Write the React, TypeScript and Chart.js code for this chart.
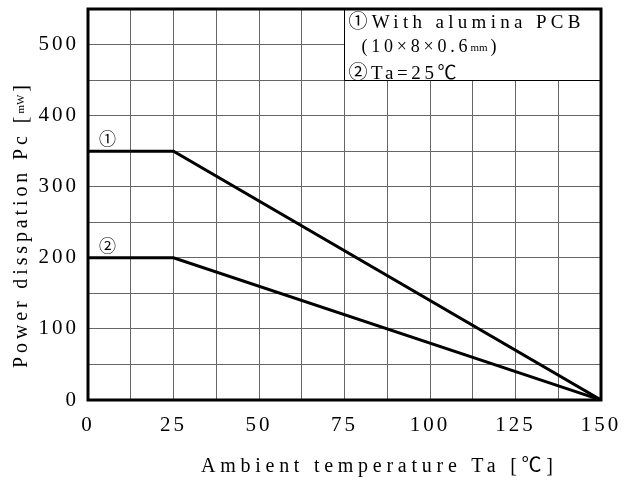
import React, { useEffect, useRef } from 'react';
import { Chart, registerables } from 'chart.js';
Chart.register(...registerables);

const temps = [0, 25, 150];
const withPcb = [350, 350, 0];
const ta25 = [200, 200, 0];
const xLabeled = [0, 25, 50, 75, 100, 125, 150];
const yLabeled = [0, 100, 200, 300, 400, 500];
const xTitle = 'Ambient temperature Ta [℃]';
const yTitleMain = 'Power disspation Pc [';
const yTitleUnit = 'mW';
const yTitleEnd = ']';
const legendLine1 = '①With alumina PCB';
const legendLine2Main = '(10×8×0.6';
const legendLine2Unit = 'mm';
const legendLine2End = ')';
const legendLine3 = '②Ta=25℃';
const markerLabels = ['①', '②'];

const FONT = "'Liberation Serif', 'Noto Sans CJK JP', serif";

function setLS(ctx: CanvasRenderingContext2D, s: number) {
  (ctx as any).letterSpacing = s + 'px';
}

function fitSpacing(ctx: CanvasRenderingContext2D, text: string, size: number, target: number) {
  ctx.font = `${size}px ${FONT}`;
  setLS(ctx, 0);
  const nat = ctx.measureText(text).width;
  const n = Array.from(text).length;
  return n > 1 ? (target - nat) / (n - 1) : 0;
}

function drawFit(ctx: CanvasRenderingContext2D, text: string, x: number, y: number, size: number, target: number) {
  const s = fitSpacing(ctx, text, size, target);
  ctx.font = `${size}px ${FONT}`;
  setLS(ctx, s);
  ctx.fillText(text, x, y);
  setLS(ctx, 0);
  return s;
}

function drawPart(ctx: CanvasRenderingContext2D, text: string, x: number, y: number, size: number, s: number) {
  ctx.font = `${size}px ${FONT}`;
  setLS(ctx, s);
  ctx.fillText(text, x, y);
  const w = ctx.measureText(text).width - s;
  setLS(ctx, 0);
  return w;
}

const overlayPlugin = {
  id: 'overlay',
  beforeDraw(chart: any) {
    setLS(chart.ctx, 3);
  },
  afterDraw(chart: any) {
    const ctx: CanvasRenderingContext2D = chart.ctx;
    setLS(ctx, 0);
    const xs = chart.scales.x;
    const ys = chart.scales.y;
    const ca = chart.chartArea;
    ctx.save();
    // legend box
    const bx1 = xs.getPixelForValue(75);
    const bx2 = xs.getPixelForValue(150);
    const by1 = ys.getPixelForValue(550);
    const by2 = ys.getPixelForValue(450);
    ctx.fillStyle = '#fff';
    ctx.fillRect(bx1, by1, bx2 - bx1, by2 - by1);
    ctx.strokeStyle = '#000';
    ctx.lineWidth = 1;
    ctx.beginPath();
    ctx.moveTo(Math.round(bx1) - 0.5, by1);
    ctx.lineTo(Math.round(bx1) - 0.5, Math.round(by2) + 0.5);
    ctx.lineTo(bx2, Math.round(by2) + 0.5);
    ctx.stroke();
    ctx.fillStyle = '#000';
    ctx.textBaseline = 'alphabetic';
    ctx.textAlign = 'left';
    drawFit(ctx, legendLine1, bx1 + 4, 28, 19, 232);
    let lx = bx1 + 17;
    const s2 = fitSpacing(ctx, legendLine2Main, 18, 106);
    lx += drawPart(ctx, legendLine2Main, lx, 52, 18, s2);
    lx += 3;
    lx += drawPart(ctx, legendLine2Unit, lx, 51, 11, 0);
    lx += 3;
    drawPart(ctx, legendLine2End, lx, 52, 18, 0);
    drawFit(ctx, legendLine3, bx1 + 4, 79, 19, 108);
    // frame
    ctx.lineWidth = 3;
    ctx.strokeRect(ca.left, ca.top, ca.right - ca.left, ca.bottom - ca.top);
    // marker labels
    ctx.font = `17px ${FONT}`;
    ctx.textAlign = 'center';
    ctx.textBaseline = 'middle';
    ctx.fillText(markerLabels[0], xs.getPixelForValue(5.7), ys.getPixelForValue(365));
    ctx.fillText(markerLabels[1], xs.getPixelForValue(5.7), ys.getPixelForValue(215));
    // x title
    ctx.textAlign = 'left';
    ctx.textBaseline = 'alphabetic';
    drawFit(ctx, xTitle, 201, 472, 20, 352);
    // y title (rotated), ink from y=368 up to y=85
    ctx.translate(27, 368);
    ctx.rotate(-Math.PI / 2);
    ctx.font = `20px ${FONT}`;
    const natMain = ctx.measureText(yTitleMain).width;
    ctx.font = `11px ${FONT}`;
    const natUnit = ctx.measureText(yTitleUnit).width;
    ctx.font = `20px ${FONT}`;
    const natEnd = ctx.measureText(yTitleEnd).width;
    const gaps = 6;
    const n = Array.from(yTitleMain).length;
    const s = (283 - natMain - natUnit - natEnd - gaps) / (n - 1);
    let yx = 0;
    yx += drawPart(ctx, yTitleMain, yx, 0, 20, s);
    yx += 3;
    yx += drawPart(ctx, yTitleUnit, yx, -3, 11, 0);
    yx += 3;
    drawPart(ctx, yTitleEnd, yx, 0, 20, 0);
    ctx.restore();
    setLS(ctx, 0);
  },
};

export default function App() {
  const ref = useRef<HTMLCanvasElement>(null);
  useEffect(() => {
    if (!ref.current) return;
    const mk = (ys: number[]) => temps.map((t, i) => ({ x: t, y: ys[i] }));
    const chart = new Chart(ref.current, {
      type: 'line',
      data: {
        datasets: [
          { label: 'With alumina PCB', data: mk(withPcb), borderColor: '#000', borderWidth: 3, pointRadius: 0, fill: false, tension: 0 },
          { label: 'Ta=25℃', data: mk(ta25), borderColor: '#000', borderWidth: 3, pointRadius: 0, fill: false, tension: 0 },
        ],
      },
      options: {
        animation: false,
        responsive: false,
        events: [],
        layout: { padding: { top: 9, right: 26, left: 0, bottom: 0 } },
        plugins: { legend: { display: false }, tooltip: { enabled: false }, title: { display: false } },
        scales: {
          x: {
            type: 'linear',
            min: 0,
            max: 150,
            border: { display: false },
            grid: { color: '#666', lineWidth: 1, drawTicks: false },
            ticks: {
              stepSize: 12.5,
              autoSkip: false,
              maxRotation: 0,
              padding: 13,
              color: '#000',
              font: { family: FONT, size: 21 },
              callback: (v: any) => (xLabeled.includes(Number(v)) ? String(v) : ''),
            },
            afterFit: (s: any) => { s.height = 82; s.paddingLeft = 0; s.paddingRight = 0; },
          },
          y: {
            type: 'linear',
            min: 0,
            max: 550,
            border: { display: false },
            grid: { color: '#666', lineWidth: 1, drawTicks: false },
            ticks: {
              stepSize: 50,
              autoSkip: false,
              padding: 9,
              color: '#000',
              font: { family: FONT, size: 21 },
              callback: (v: any) => (yLabeled.includes(Number(v)) ? String(v) : ''),
            },
            afterFit: (s: any) => { s.width = 88; s.paddingTop = 0; s.paddingBottom = 0; },
          },
        },
      },
      plugins: [overlayPlugin],
    });
    return () => chart.destroy();
  }, []);
  return (
    <div style={{ position: 'fixed', left: 0, top: 0, width: 627, height: 482, background: '#fff' }}>
      <canvas ref={ref} width={627} height={482} style={{ width: 627, height: 482 }} />
    </div>
  );
}
